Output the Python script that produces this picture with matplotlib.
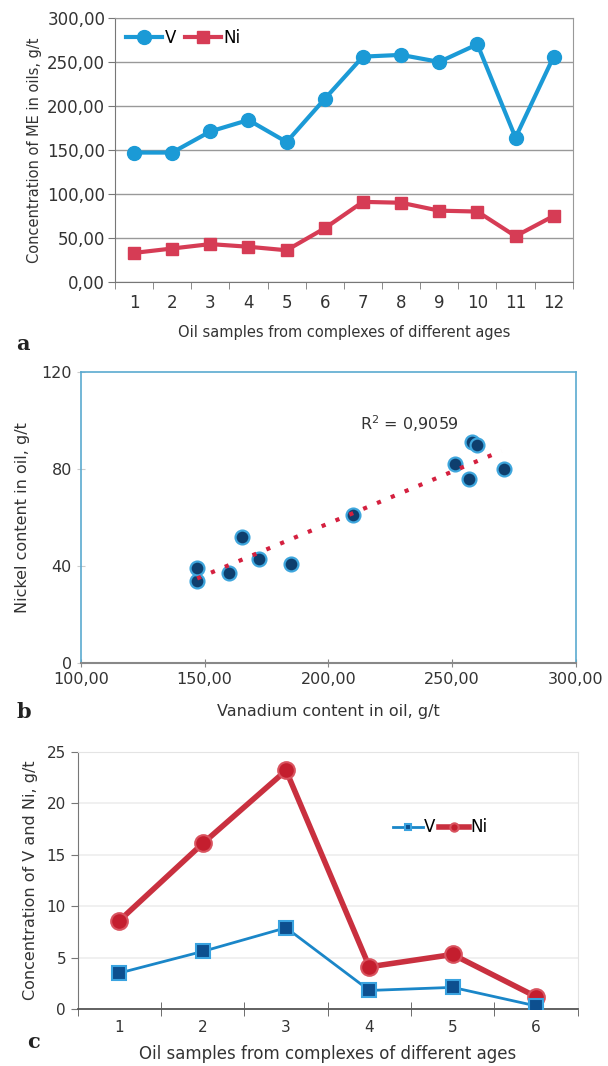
import numpy as np
import matplotlib
matplotlib.use("Agg")
import matplotlib.pyplot as plt
from matplotlib.ticker import FuncFormatter

# panel a: V and Ni in oils from 12 samples
samples_a = list(range(1, 13))
v_a = [147, 147, 171, 184, 159, 208, 256, 258, 250, 270, 164, 256]
ni_a = [33, 38, 43, 40, 36, 61, 91, 90, 81, 80, 52, 75]

# panel b: Ni vs V scatter
v_b = [147, 147, 160, 165, 172, 185, 210, 251, 257, 258, 260, 271]
ni_b = [34, 39, 37, 52, 43, 41, 61, 82, 76, 91, 90, 80]
r2_text = "R$^2$ = 0,9059"

# panel c: 6 samples
samples_c = list(range(1, 7))
v_c = [3.5, 5.6, 7.9, 1.8, 2.1, 0.3]
ni_c = [8.6, 16.1, 23.2, 4.1, 5.3, 1.2]

plt.rcParams['font.family'] = ['DejaVu Sans']
txt = '#333333'
comma2 = FuncFormatter(lambda v, p: f"{v:.2f}".replace('.', ','))

fig = plt.figure(figsize=(6.08, 10.66), dpi=100)

# ---------- a ----------
ax = fig.add_axes([0.189, 0.7355, 0.753, 0.2477])
ax.plot(samples_a, v_a, color='#1b9ad6', lw=3, marker='o', ms=10, label='V')
ax.plot(samples_a, ni_a, color='#d63c55', lw=3, marker='s', ms=8.5, label='Ni')
ax.set_xlim(0.5, 12.5)
ax.set_ylim(0, 300)
ax.set_yticks(np.arange(0, 301, 50))
ax.yaxis.set_major_formatter(comma2)
ax.set_xticks(samples_a)
ax.set_xticks(np.arange(0.5, 12.6, 1), minor=True)
ax.tick_params(axis='x', which='major', length=0, pad=9, labelsize=12, colors=txt)
ax.tick_params(axis='x', which='minor', length=5, color='#777777')
ax.tick_params(axis='y', length=5, labelsize=12, colors=txt, color='#777777', pad=2)
ax.grid(axis='y', color='#999999', lw=1)
ax.set_axisbelow(True)
for s in ax.spines.values():
    s.set_color('#999999')
ax.spines['left'].set_color('#777777')
ax.spines['bottom'].set_color('#777777')
ax.set_ylabel('Concentration of ME in oils, g/t', fontsize=10.5, color=txt, labelpad=4)
ax.set_xlabel('Oil samples from complexes of different ages', fontsize=10.5, color=txt, labelpad=9)
ax.legend(loc='upper left', frameon=False, fontsize=12, ncol=2, handlelength=2.2,
          columnspacing=0.5, handletextpad=0.15, borderaxespad=0.25)
fig.text(0.027, 0.672, 'a', fontsize=15, fontweight='bold', family='DejaVu Serif', color='#222222')

# ---------- b ----------
bx = fig.add_axes([0.133, 0.378, 0.814, 0.273])
bx.scatter(v_b, ni_b, s=100, color='#0e3f6e', edgecolors='#3ea6dd', linewidths=1.6, zorder=3)
k, b0 = np.polyfit(v_b, ni_b, 1)
xs = np.linspace(min(v_b), 270, 60)
bx.plot(xs, k * xs + b0, color='#d4203f', ls=(0, (1, 2.6)), lw=3, zorder=4)
bx.text(213, 96, r2_text, fontsize=11.5, color=txt)
bx.set_xlim(100, 300)
bx.set_ylim(0, 120)
bx.set_xticks(np.arange(100, 301, 50))
bx.set_yticks([0, 40, 80, 120])
bx.xaxis.set_major_formatter(comma2)
bx.tick_params(axis='x', direction='inout', length=6, labelsize=11.5, colors=txt, color='#888888')
bx.tick_params(axis='y', direction='inout', length=6, labelsize=11.5, colors=txt, color='#cccccc')
for s in bx.spines.values():
    s.set_color('#5aaad0')
    s.set_linewidth(1.2)
bx.spines['bottom'].set_color('#888888')
bx.spines['bottom'].set_linewidth(1.5)
bx.set_ylabel('Nickel content in oil, g/t', fontsize=11.5, color=txt, labelpad=8)
bx.set_xlabel('Vanadium content in oil, g/t', fontsize=11.5, color=txt, labelpad=12)
fig.text(0.027, 0.326, 'b', fontsize=15, fontweight='bold', family='DejaVu Serif', color='#222222')

# ---------- c ----------
cx = fig.add_axes([0.128, 0.0535, 0.822, 0.2411])
cx.plot(samples_c, v_c, color='#1a86c8', lw=2, marker='s', ms=10,
        mfc='#0d4f8f', mec='#3aa3e0', mew=1.5, label='V', zorder=4)
cx.plot(samples_c, ni_c, color='#c9303f', lw=4, marker='o', ms=12,
        mfc='#c41e2e', mec='#d9535f', mew=1.5, label='Ni', zorder=3)
cx.set_xlim(0.5, 6.5)
cx.set_ylim(0, 25)
cx.set_yticks(np.arange(0, 26, 5))
cx.set_xticks(samples_c)
cx.set_xticks(np.arange(0.5, 6.6, 1), minor=True)
cx.tick_params(axis='x', which='major', length=0, pad=8, labelsize=11, colors=txt)
cx.tick_params(axis='x', which='minor', direction='inout', length=10, color='#555555')
cx.tick_params(axis='y', length=5, labelsize=11, colors=txt, color='#777777')
cx.grid(axis='y', color='#eeeeee', lw=1.2)
cx.set_axisbelow(True)
for s in cx.spines.values():
    s.set_color('#e4e4e4')
cx.spines['left'].set_color('#777777')
cx.spines['bottom'].set_color('#555555')
cx.spines['bottom'].set_linewidth(1.3)
cx.set_ylabel('Concentration of V and Ni, g/t', fontsize=11.5, color=txt, labelpad=6)
cx.set_xlabel('Oil samples from complexes of different ages', fontsize=12, color=txt)
cx.xaxis.set_label_coords(0.5, -0.14)
cx.legend(loc='upper left', bbox_to_anchor=(0.6, 0.8), frameon=False, fontsize=12, ncol=2,
          handlelength=1.8, columnspacing=0.2, handletextpad=0.1, markerscale=0.5)
fig.text(0.045, 0.017, 'c', fontsize=15, fontweight='bold', family='DejaVu Serif', color='#222222')

fig.savefig('out.png', dpi=100)
